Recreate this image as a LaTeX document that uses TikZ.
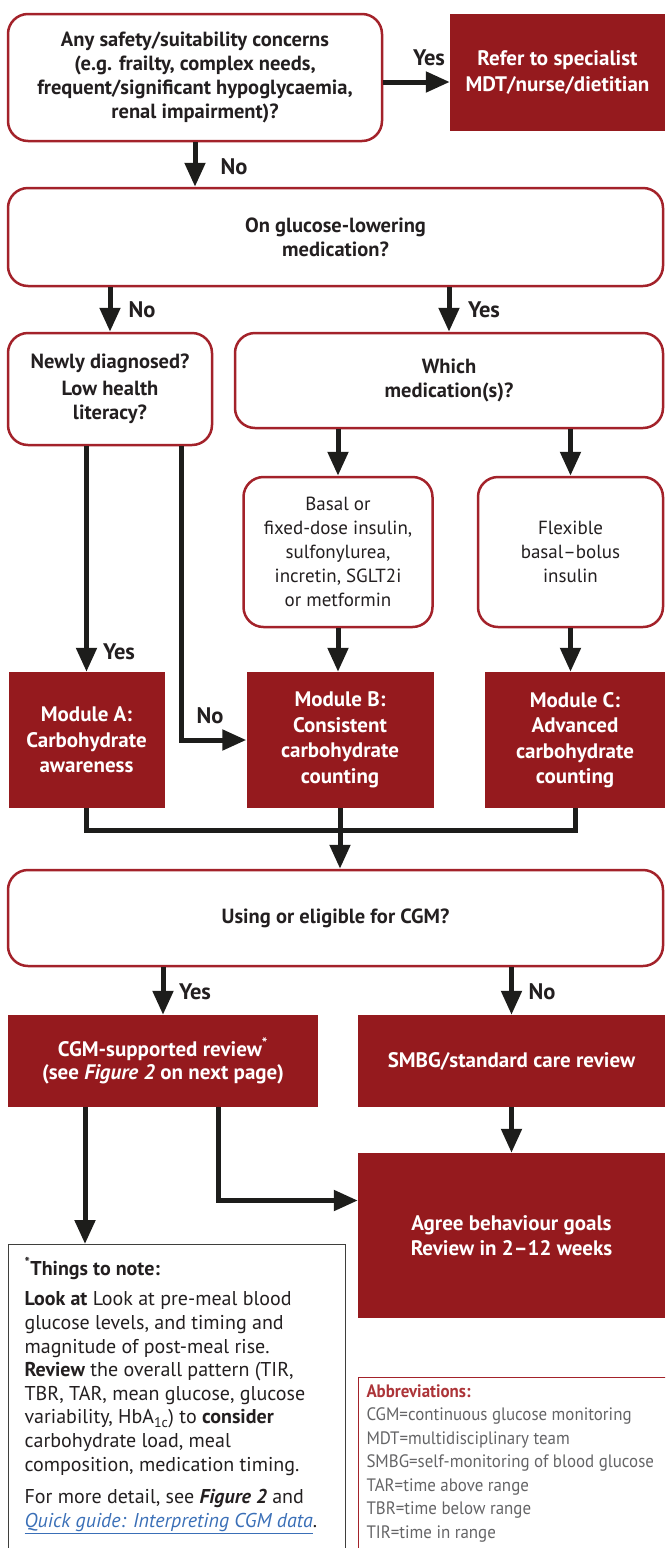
\documentclass[tikz,border=0pt]{standalone}
\usepackage{fontspec}
\setmainfont{PT Sans}
\newfontfamily\abbrfont{PT Sans}[FakeStretch=0.94]
\usepackage{xcolor}
\usetikzlibrary{arrows.meta}
\definecolor{modred}{RGB}{149,26,30}
\definecolor{boxred}{RGB}{163,34,42}
\definecolor{titlered}{RGB}{172,52,56}
\definecolor{arrblack}{RGB}{29,29,27}
\definecolor{txtblack}{RGB}{35,31,32}
\definecolor{txtgray}{RGB}{100,100,102}
\definecolor{linkblue}{RGB}{58,111,183}

\begin{document}
\begin{tikzpicture}[x=1pt, y=-1pt,
  qbox/.style={draw=boxred, line width=2.5pt, rounded corners=20pt, fill=white,
               align=center, inner sep=0pt, text=txtblack,
               font=\bfseries\fontsize{20.5}{24}\selectfont},
  medbox/.style={qbox, font=\fontsize{19}{24}\selectfont},
  redbox/.style={fill=modred, text=white, align=center, inner sep=0pt,
                 font=\bfseries\fontsize{21}{25.5}\selectfont},
  lbl/.style={text=txtblack, inner sep=0pt, font=\bfseries\fontsize{22.5}{24}\selectfont},
  seg/.style={line width=5pt, arrblack},
  arr/.style={-{Triangle[length=24pt, width=20pt]}, line width=5pt, arrblack}
]
\clip (0,0) rectangle (665,1548);
% questions and outcomes
\node[qbox, minimum width=374pt, minimum height=127pt] (q1) at (195,77.5) {
  Any safety/suitability concerns\\(e.g. frailty, complex needs,\\
  frequent/significant hypoglycaemia,\\renal impairment)?};
\node[redbox, minimum width=215pt, minimum height=117pt] (refer) at (557.5,72.5) {
  Refer to specialist\\MDT/nurse/dietitian};
\node[qbox, minimum width=655pt, minimum height=98pt] (q2) at (335.5,237) {
  On glucose-lowering\\medication?};
\node[qbox, minimum width=204pt, minimum height=112pt] (newly) at (110,389) {
  Newly diagnosed?\\[3pt]Low health\\literacy?};
\node[qbox, minimum width=428pt, minimum height=95pt] (which) at (449,380.5) {
  Which\\medication(s)?};
\node[medbox, minimum width=189pt, minimum height=150pt] (basal) at (338,552) {
  Basal or\\fixed-dose insulin,\\sulfonylurea,\\incretin, SGLT2i\\or metformin};
\node[medbox, minimum width=185pt, minimum height=150pt] (flex) at (570.5,552) {
  Flexible\\basal\textendash bolus\\insulin};
\node[redbox, minimum width=156pt, minimum height=136pt] (modA) at (86.5,740) {
  Module A:\\Carbohydrate\\awareness};
\node[redbox, minimum width=187pt, minimum height=136pt] (modB) at (340,740) {
  Module B:\\Consistent\\carbohydrate\\counting};
\node[redbox, minimum width=180pt, minimum height=136pt] (modC) at (575,740) {
  Module C:\\Advanced\\carbohydrate\\counting};
\node[qbox, minimum width=655pt, minimum height=96pt] (q3) at (335.5,918) {
  Using or eligible for CGM?};
\node[redbox, minimum width=310pt, minimum height=92pt] (cgm) at (163,1061) {
  CGM-supported review\textsuperscript{*}\\[-2pt](see \textit{Figure 2} on next page)};
\node[redbox, minimum width=307pt, minimum height=92pt] (smbg) at (511.5,1061) {
  SMBG/standard care review};
\node[redbox, minimum width=307pt, minimum height=165pt] (agree) at (511.5,1235.5) {
  Agree behaviour goals\\Review in 2\textendash 12 weeks};
% notes
\node[draw=arrblack!85, line width=1.2pt, anchor=north west, inner xsep=16pt, inner ysep=13pt,
      text=txtblack, font=\fontsize{20}{23.6}\selectfont] (note) at (8,1244) {%
  \parbox[t][300pt][t]{305pt}{\raggedright
  {\bfseries\fontsize{20}{24}\selectfont\textsuperscript{*}Things to note:}\par\vspace{7pt}
  \textbf{Look at} Look at pre-meal blood\\
  glucose levels, and timing and\\
  magnitude of post-meal rise.\\
  \textbf{Review} the overall pattern (TIR,\\
  TBR, TAR, mean glucose, glucose\\
  variability, HbA\textsubscript{1c}) to \textbf{consider}\\
  carbohydrate load, meal\\
  composition, medication timing.\par\vspace{9pt}
  For more detail, see \textbf{\textit{Figure 2}} and\\
  \textcolor{linkblue}{\underline{\textit{Quick guide: Interpreting CGM data}}}.}};
\node[draw=boxred, line width=1pt, anchor=north west, inner xsep=8pt, inner ysep=7pt,
      text=txtgray, font=\abbrfont\fontsize{18}{23.5}\selectfont] (abbr) at (358,1377) {%
  \parbox[t][200pt][t]{330pt}{\raggedright
  {\color{titlered}\bfseries Abbreviations:}\\
  CGM=continuous glucose monitoring\\
  MDT=multidisciplinary team\\
  SMBG=self-monitoring of blood glucose\\
  TAR=time above range\\
  TBR=time below range\\
  TIR=time in range}};
% labels
\node[lbl] (yes1) at (429,58) {Yes};
\node[lbl] (no1) at (234,167) {No};
\node[lbl] (no2) at (142,310) {No};
\node[lbl] (yes2) at (484,310) {Yes};
\node[lbl] (yes3) at (119,652) {Yes};
\node[lbl] (no3) at (210,716) {No};
\node[lbl] (yes4) at (195,992) {Yes};
\node[lbl] (no4) at (542,992) {No};
% connectors
\coordinate (q1yes) at ([yshift=-4.5pt]q1.east);
\draw[arr] (q1yes) -- (q1yes -| refer.west);
\draw[arr] (q1.south) -- (q1.south |- q2.north);
\draw[arr] (q2.south -| newly.north) -- (newly.north);
\draw[arr] (q2.south -| which.north) -- (which.north);
\draw[arr] (basal.north |- which.south) -- (basal.north);
\draw[arr] (flex.north |- which.south) -- (flex.north);
\draw[arr] (modA.north |- newly.south) -- (modA.north);
\draw[arr] ([xshift=71.5pt]newly.south) |- (modB.west);
\draw[arr] (basal.south) -- (basal.south |- modB.north);
\draw[arr] (flex.south) -- (flex.south |- modC.north);
\draw[seg] (modA.south) -- ++(0,22) -| (modC.south);
\draw[arr] (modB.south) -- (modB.south |- q3.north);
\draw[arr] (cgm.north |- q3.south) -- (cgm.north);
\draw[arr] (q3.south -| smbg.north) -- (smbg.north);
\draw[arr] (smbg.south) -- (agree.north);
\draw[arr] ([xshift=55.5pt]cgm.south) |- ([yshift=35pt]agree.west);
\coordinate (cgmleft) at ([xshift=-78pt]cgm.south);
\draw[arr] (cgmleft) -- (cgmleft |- note.north);
\end{tikzpicture}
\end{document}
